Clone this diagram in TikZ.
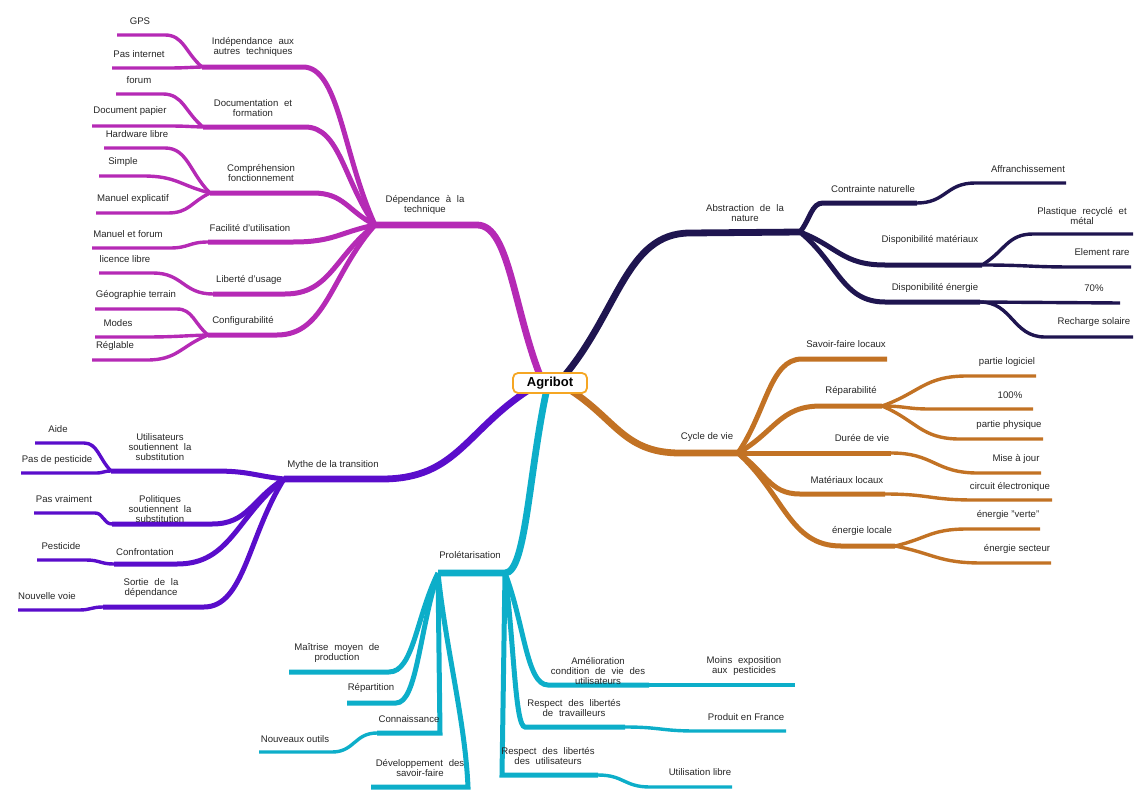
\documentclass[tikz,border=0pt]{standalone}
\usepackage{fontspec}
\setmainfont{Liberation Sans}
\usetikzlibrary{calc}
\definecolor{cM}{HTML}{B52AB5}
\definecolor{cN}{HTML}{1F1550}
\definecolor{cO}{HTML}{C27224}
\definecolor{cV}{HTML}{5A0DCB}
\definecolor{cC}{HTML}{0DAEC9}
\definecolor{cBox}{HTML}{F5A623}
\definecolor{txt}{HTML}{262626}
\tikzset{
 lvA/.style={line width=6.8pt},
 lvB/.style={line width=5pt},
 lvC/.style={line width=3.4pt},
 mm/.style={to path={let \p1=(\tikztostart), \p2=(\tikztotarget) in .. controls ({\x1+0.45*(\x2-\x1)},{\y1+0.45*(\y2-\y1)}) and ({\x1+0.5*(\x2-\x1)},\y2) .. (\tikztotarget)}},
 ss/.style={to path={let \p1=(\tikztostart), \p2=(\tikztotarget) in .. controls ({0.5*(\x1+\x2)},\y1) and ({0.5*(\x1+\x2)},\y2) .. (\tikztotarget)}},
 lbl/.style={font=\fontsize{9.6}{10}\selectfont, text=txt, align=center, inner sep=0pt},
 lbm/.style={lbl, execute at begin node={\spaceskip=0.6em plus 0.1em\relax}},
}
\begin{document}
\begin{tikzpicture}[x=1pt,y=-1pt]
\useasboundingbox (0,0) rectangle (1140,795);
% ---------- coordinates ----------
\coordinate (sM) at (543,383); \coordinate (sN) at (560,381);
\coordinate (sO) at (562,385); \coordinate (sV) at (535,386);
\coordinate (sC) at (548,384);
% magenta
\coordinate (depR) at (477,225); \coordinate (hubD) at (375,225);
\coordinate (indR) at (303,67);  \coordinate (indL) at (202,67);
\coordinate (gpsR) at (165,35);  \coordinate (gpsL) at (117,35);
\coordinate (pinR) at (167,68);  \coordinate (pinL) at (112,68);
\coordinate (docR) at (305,127); \coordinate (docL) at (203,127);
\coordinate (forR) at (163,94);  \coordinate (forL) at (116,94);
\coordinate (dpaR) at (168,126); \coordinate (dpaL) at (92,126);
\coordinate (comR) at (313,193); \coordinate (comL) at (210,193);
\coordinate (hwR) at (165,148);  \coordinate (hwL) at (104,148);
\coordinate (simR) at (143,176); \coordinate (simL) at (99,176);
\coordinate (mexR) at (168,213); \coordinate (mexL) at (96,213);
\coordinate (facR) at (293,242); \coordinate (facL) at (208,242);
\coordinate (mfoR) at (170,248); \coordinate (mfoL) at (92,248);
\coordinate (libR) at (285,294); \coordinate (libL) at (213,294);
\coordinate (licR) at (153,273); \coordinate (licL) at (99,273);
\coordinate (cfgR) at (277,335); \coordinate (cfgL) at (208,335);
\coordinate (geoR) at (177,309); \coordinate (geoL) at (95,309);
\coordinate (modR) at (143,337); \coordinate (modL) at (95,337);
\coordinate (regR) at (147,360); \coordinate (regL) at (92,360);
% navy
\coordinate (absL) at (690,233); \coordinate (hubN) at (800,232);
\coordinate (conL) at (823,203); \coordinate (conR) at (917,203);
\coordinate (affL) at (975,183); \coordinate (affR) at (1066,183);
\coordinate (dmaL) at (885,265); \coordinate (dmaR) at (982,265);
\coordinate (plaL) at (1033,234); \coordinate (plaR) at (1133,234);
\coordinate (eraL) at (1074,267); \coordinate (eraR) at (1131,267);
\coordinate (denL) at (885,302); \coordinate (denR) at (980,302);
\coordinate (p70R) at (1120,303);
\coordinate (recL) at (1045,337); \coordinate (recR) at (1133,337);
% orange
\coordinate (cycL) at (680,453); \coordinate (hubO) at (738,453);
\coordinate (savL) at (802,359); \coordinate (savR) at (887,359);
\coordinate (repL) at (821,406); \coordinate (repR) at (882,406);
\coordinate (plgL) at (967,376); \coordinate (plgR) at (1036,376);
\coordinate (p100L) at (930,409); \coordinate (p100R) at (1033,409);
\coordinate (phyL) at (960,439); \coordinate (phyR) at (1043,439);
\coordinate (durR) at (891,453);
\coordinate (majL) at (978,473); \coordinate (majR) at (1041,473);
\coordinate (matL) at (800,494); \coordinate (matR) at (885,494);
\coordinate (cirL) at (974,500); \coordinate (cirR) at (1052,500);
\coordinate (enlL) at (841,546); \coordinate (enlR) at (895,546);
\coordinate (verL) at (967,529); \coordinate (verR) at (1040,529);
\coordinate (secL) at (982,563); \coordinate (secR) at (1051,563);
% violet
\coordinate (mytR) at (382,479); \coordinate (hubV) at (284,479);
\coordinate (utiR) at (214,471); \coordinate (utiL) at (111,471);
\coordinate (aidR) at (84,443);  \coordinate (aidL) at (35,443);
\coordinate (pdpR) at (96,473);  \coordinate (pdpL) at (21,473);
\coordinate (polR) at (212,524); \coordinate (polL) at (112,524);
\coordinate (pvrR) at (95,513);  \coordinate (pvrL) at (34,513);
\coordinate (cfrR) at (177,564); \coordinate (cfrL) at (114,564);
\coordinate (pstR) at (86,560);  \coordinate (pstL) at (37,560);
\coordinate (sorR) at (204,607); \coordinate (sorL) at (103,607);
\coordinate (nvR) at (79,610);   \coordinate (nvL) at (18,610);
% cyan
\coordinate (proR) at (505,573); \coordinate (proL) at (438,573);
\coordinate (maiR) at (389,672); \coordinate (maiL) at (289,672);
\coordinate (rptR) at (396,703); \coordinate (rptL) at (347,703);
\coordinate (conaR) at (440,733); \coordinate (conaL) at (377,733);
\coordinate (nouR) at (332,752); \coordinate (nouL) at (259,752);
\coordinate (devR) at (468,787); \coordinate (devL) at (371,787);
\coordinate (ameL) at (548,685); \coordinate (ameR) at (649,685);
\coordinate (moiR) at (795,685);
\coordinate (rtrL) at (525,727); \coordinate (rtrR) at (625,727);
\coordinate (prdL) at (696,731); \coordinate (prdR) at (786,731);
\coordinate (rutL) at (502,775); \coordinate (rutR) at (598,775);
\coordinate (ulbL) at (650,787); \coordinate (ulbR) at (732,787);
% ---------- magenta branch ----------
\draw[cM,lvA] (sM) to[mm] (depR) -- (hubD);
\draw[cM,lvB] (hubD) to[mm] (indR) -- (indL);
\draw[cM,lvB] (hubD) to[mm] (docR) -- (docL);
\draw[cM,lvB] (hubD) to[mm] (comR) -- (comL);
\draw[cM,lvB] (hubD) to[mm] (facR) -- (facL);
\draw[cM,lvB] (hubD) to[mm] (libR) -- (libL);
\draw[cM,lvB] (hubD) to[mm] (cfgR) -- (cfgL);
\draw[cM,lvC] (indL) to[mm] (gpsR) -- (gpsL);
\draw[cM,lvC] (indL) to[mm] (pinR) -- (pinL);
\draw[cM,lvC] (docL) to[mm] (forR) -- (forL);
\draw[cM,lvC] (docL) to[mm] (dpaR) -- (dpaL);
\draw[cM,lvC] (comL) to[mm] (hwR) -- (hwL);
\draw[cM,lvC] (comL) to[mm] (simR) -- (simL);
\draw[cM,lvC] (comL) to[mm] (mexR) -- (mexL);
\draw[cM,lvC] (facL) to[ss] (mfoR) -- (mfoL);
\draw[cM,lvC] (libL) to[ss] (licR) -- (licL);
\draw[cM,lvC] (cfgL) to[mm] (geoR) -- (geoL);
\draw[cM,lvC] (cfgL) to[mm] (modR) -- (modL);
\draw[cM,lvC] (cfgL) to[mm] (regR) -- (regL);
% ---------- navy branch ----------
\draw[cN,lvA] (sN) to[mm] (absL) -- (hubN);
\draw[cN,lvB] (hubN) to[mm] (conL) -- (conR);
\draw[cN,lvB] (hubN) to[mm] (dmaL) -- (dmaR);
\draw[cN,lvB] (hubN) to[mm] (denL) -- (denR);
\draw[cN,lvC] (conR) to[ss] (affL) -- (affR);
\draw[cN,lvC] (dmaR) to[mm] (plaL) -- (plaR);
\draw[cN,lvC] (dmaR) to[ss] (eraL) -- (eraR);
\draw[cN,lvC] (denR) -- (p70R);
\draw[cN,lvC] (denR) to[ss] (recL) -- (recR);
% ---------- orange branch ----------
\draw[cO,lvA] (sO) to[mm] (cycL) -- (hubO);
\draw[cO,lvB] (hubO) to[mm] (savL) -- (savR);
\draw[cO,lvB] (hubO) to[mm] (repL) -- (repR);
\draw[cO,lvB] (hubO) -- (durR);
\draw[cO,lvB] (hubO) to[mm] (matL) -- (matR);
\draw[cO,lvB] (hubO) to[mm] (enlL) -- (enlR);
\draw[cO,lvC] (repR) to[mm] (plgL) -- (plgR);
\draw[cO,lvC] (repR) to[ss] (p100L) -- (p100R);
\draw[cO,lvC] (repR) to[mm] (phyL) -- (phyR);
\draw[cO,lvC] (durR) to[ss] (majL) -- (majR);
\draw[cO,lvC] (matR) to[ss] (cirL) -- (cirR);
\draw[cO,lvC] (enlR) to[mm] (verL) -- (verR);
\draw[cO,lvC] (enlR) to[mm] (secL) -- (secR);
% ---------- violet branch ----------
\draw[cV,lvA] (sV) to[mm] (mytR) -- (hubV);
\draw[cV,lvB] (hubV) to[mm] (utiR) -- (utiL);
\draw[cV,lvB] (hubV) to[mm] (polR) -- (polL);
\draw[cV,lvB] (hubV) to[mm] (cfrR) -- (cfrL);
\draw[cV,lvB] (hubV) to[mm] (sorR) -- (sorL);
\draw[cV,lvC] (utiL) to[mm] (aidR) -- (aidL);
\draw[cV,lvC] (utiL) to[ss] (pdpR) -- (pdpL);
\draw[cV,lvC] (polL) to[ss] (pvrR) -- (pvrL);
\draw[cV,lvC] (cfrL) to[ss] (pstR) -- (pstL);
\draw[cV,lvC] (sorL) to[ss] (nvR) -- (nvL);
% ---------- cyan branch ----------
\draw[cC,lvA] (sC) to[mm] (proR) -- (proL);
\draw[cC,lvB] (proL) to[mm] (maiR) -- (maiL);
\draw[cC,lvB] (proL) to[mm] (rptR) -- (rptL);
\draw[cC,lvB] (proL) -- (conaR) -- (conaL);
\draw[cC,lvB] (proL) .. controls (446,650) and (465,720) .. (devR) -- (devL);
\draw[cC,lvB] (proR) to[mm] (ameL) -- (ameR);
\draw[cC,lvB] (proR) to[mm] (rtrL) -- (rtrR);
\draw[cC,lvB] (proR) -- (rutL) -- (rutR);
\draw[cC,lvC] (conaL) to[ss] (nouR) -- (nouL);
\draw[cC,lvC] (ameR) -- (moiR);
\draw[cC,lvC] (rtrR) to[ss] (prdL) -- (prdR);
\draw[cC,lvC] (rutR) to[ss] (ulbL) -- (ulbR);
% ---------- root ----------
\node[draw=cBox, line width=1.8pt, rounded corners=5pt, fill=white, minimum width=74pt, minimum height=20pt, inner sep=0pt, font=\fontsize{13}{13}\selectfont\bfseries] (root) at (550,383) {Agribot};
% ---------- labels ----------
\node[lbm] (tDep) at (425,205) {Dépendance à la\\technique};
\node[lbm] (tInd) at (253,47) {Indépendance aux\\autres techniques};
\node[lbl] (tGps) at (140,21) {GPS};
\node[lbl] (tPin) at (139,54) {Pas internet};
\node[lbm] (tDoc) at (253,108) {Documentation et\\formation};
\node[lbl] (tFor) at (139,80) {forum};
\node[lbl] (tDpa) at (130,111) {Document papier};
\node[lbm] (tCom) at (261,173) {Compréhension\\fonctionnement};
\node[lbl] (tHw) at (137,134) {Hardware libre};
\node[lbl] (tSim) at (123,162) {Simple};
\node[lbl] (tMex) at (133,199) {Manuel explicatif};
\node[lbl] (tFac) at (250,228) {Facilité d'utilisation};
\node[lbl] (tMfo) at (128,234) {Manuel et forum};
\node[lbl] (tLib) at (249,280) {Liberté d'usage};
\node[lbl] (tLic) at (125,259) {licence libre};
\node[lbl] (tCfg) at (243,321) {Configurabilité};
\node[lbl] (tGeo) at (136,295) {Géographie terrain};
\node[lbl] (tMod) at (118,323) {Modes};
\node[lbl] (tReg) at (115,346) {Réglable};
\node[lbm] (tAbs) at (745,213) {Abstraction de la\\nature};
\node[lbl] (tCon) at (873,189) {Contrainte naturelle};
\node[lbl] (tAff) at (1028,169) {Affranchissement};
\node[lbl] (tDma) at (930,240) {Disponibilité matériaux};
\node[lbm] (tPla) at (1082,216) {Plastique recyclé et\\métal};
\node[lbl] (tEra) at (1102,252) {Element rare};
\node[lbl] (tDen) at (935,288) {Disponibilité énergie};
\node[lbl] (t70) at (1094,288) {70\%};
\node[lbl] (tRec) at (1094,322) {Recharge solaire};
\node[lbl] (tCyc) at (707,437) {Cycle de vie};
\node[lbl] (tSav) at (846,344) {Savoir-faire locaux};
\node[lbl] (tRep) at (851,391) {Réparabilité};
\node[lbl] (tPlg) at (1007,362) {partie logiciel};
\node[lbl] (t100) at (1010,395) {100\%};
\node[lbl] (tPhy) at (1009,425) {partie physique};
\node[lbl] (tDur) at (862,438) {Durée de vie};
\node[lbl] (tMaj) at (1016,459) {Mise à jour};
\node[lbl] (tMat) at (847,480) {Matériaux locaux};
\node[lbl] (tCir) at (1010,487) {circuit électronique};
\node[lbl] (tEnl) at (862,531) {énergie locale};
\node[lbl] (tVer) at (1008,515) {énergie "verte"};
\node[lbl] (tSec) at (1017,549) {énergie secteur};
\node[lbl] (tMyt) at (333,465) {Mythe de la transition};
\node[lbm] (tUti) at (160,447) {Utilisateurs\\soutiennent la\\substitution};
\node[lbl] (tAid) at (58,429) {Aide};
\node[lbl] (tPdp) at (57,460) {Pas de pesticide};
\node[lbm] (tPol) at (160,509) {Politiques\\soutiennent la\\substitution};
\node[lbl] (tPvr) at (64,499) {Pas vraiment};
\node[lbl] (tCfr) at (145,552) {Confrontation};
\node[lbl] (tPst) at (61,546) {Pesticide};
\node[lbm] (tSor) at (151,588) {Sortie de la\\dépendance};
\node[lbl] (tNv) at (47,596) {Nouvelle voie};
\node[lbl] (tPro) at (470,555) {Prolétarisation};
\node[lbm] (tMai) at (337,653) {Maîtrise moyen de\\production};
\node[lbl] (tRpt) at (371,688) {Répartition};
\node[lbl] (tCona) at (409,719) {Connaissance};
\node[lbl] (tNou) at (295,739) {Nouveaux outils};
\node[lbm] (tDev) at (420,768) {Développement des\\savoir-faire};
\node[lbm] (tAme) at (598,671) {Amélioration\\condition de vie des\\utilisateurs};
\node[lbm] (tMoi) at (744,666) {Moins exposition\\aux pesticides};
\node[lbm] (tRtr) at (574,708) {Respect des libertés\\de travailleurs};
\node[lbl] (tPrd) at (746,717) {Produit en France};
\node[lbm] (tRut) at (548,756) {Respect des libertés\\des utilisateurs};
\node[lbl] (tUlb) at (700,772) {Utilisation libre};
\end{tikzpicture}
\end{document}
